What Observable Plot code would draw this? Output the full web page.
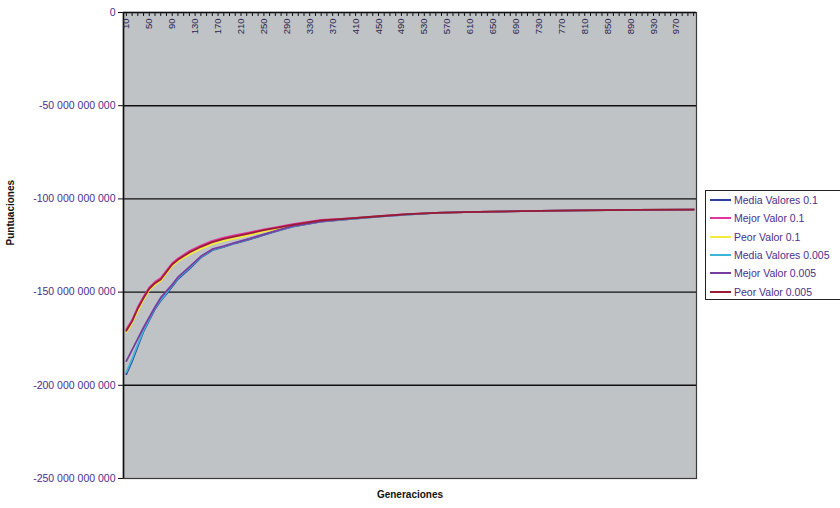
<!DOCTYPE html>
<html>
<head>
<meta charset="utf-8">
<script src="https://cdn.jsdelivr.net/npm/d3@7"></script>
<script src="https://cdn.jsdelivr.net/npm/@observablehq/plot@0.6"></script>
<style>
  body { margin: 0; background: #fff; }
  #chart { position: relative; width: 840px; height: 508px; font-family: "Liberation Sans", Arial, sans-serif; }
  #legend { position: absolute; left: 705px; top: 190px; width: 140px; height: 110px; border: 1px solid #222; box-sizing: border-box; background: #fff; }
  .item { height: 18.3px; display: flex; align-items: center; font-size: 10.5px; color: #4a2e8c; white-space: nowrap; }
  .item svg { margin-left: 4px; margin-right: 3px; }
  #chart svg g[aria-label="y-axis tick"] { stroke: #111; }
</style>
</head>
<body>
<div id="chart"><div id="legend"></div></div>
<script>
// Generaciones muestreadas
const generaciones = [10, 20, 30, 40, 50, 60, 70, 80, 90, 100, 120, 140, 160, 180, 200, 225, 250, 275, 300, 350, 400, 450, 500, 550, 600, 700, 800, 900, 1000];

// Puntuaciones en miles de millones
const mediaValores01   = [-194, -187, -179, -171, -165, -159, -154.5, -151, -147, -143, -137.5, -131.5, -127.5, -125.8, -123.8, -121.7, -119.3, -117, -114.9, -112.2, -110.8, -109.5, -108.4, -107.5, -107.1, -106.6, -106.2, -105.9, -105.7];
const mejorValor01     = [-170, -165, -158, -152.5, -147.5, -144.5, -142.5, -138.5, -134.5, -132, -128, -125, -122.5, -120.8, -119.5, -118, -116.3, -115, -113.6, -111.3, -110.4, -109.3, -108.2, -107.5, -107.1, -106.6, -106.2, -105.9, -105.7];
const peorValor01      = [-171.5, -166.5, -160, -154, -149, -146, -144, -140, -136, -133.5, -129.8, -126.8, -124.3, -122.5, -121.2, -119.4, -117.6, -116.1, -114.4, -111.9, -110.6, -109.4, -108.3, -107.5, -107.1, -106.6, -106.2, -105.9, -105.7];
const mediaValores0005 = [-193, -186, -178, -170.5, -164.5, -158.5, -154, -150.5, -146.5, -142.5, -137, -131.2, -127.3, -125.6, -123.6, -121.5, -119.1, -116.9, -114.8, -112.1, -110.7, -109.5, -108.4, -107.5, -107.1, -106.6, -106.2, -105.9, -105.7];
const mejorValor0005   = [-187, -181, -175, -169, -163.5, -158, -153, -149.5, -146, -142, -136.5, -130.8, -127, -125.3, -123.4, -121.3, -119, -116.7, -114.6, -112, -110.6, -109.4, -108.3, -107.5, -107.1, -106.6, -106.2, -105.9, -105.7];
const peorValor0005    = [-170.7, -165.7, -158.8, -153.2, -148.2, -145.2, -143.2, -139.2, -135.2, -132.7, -128.7, -125.7, -123.2, -121.5, -120.1, -118.5, -116.8, -115.4, -113.9, -111.5, -110.5, -109.3, -108.2, -107.5, -107.1, -106.6, -106.2, -105.9, -105.7];

const series  = ["Media Valores 0.1", "Mejor Valor 0.1", "Peor Valor 0.1", "Media Valores 0.005", "Mejor Valor 0.005", "Peor Valor 0.005"];
const colores = ["#2c3f9a", "#e0369c", "#f4ec3c", "#3cb6d8", "#7a3c9e", "#9a1c34"];
const valores = [mediaValores01, mejorValor01, peorValor01, mediaValores0005, mejorValor0005, peorValor0005];

// Marcas del eje de categorías y etiquetas cada cuatro
const ticksX     = d3.range(10, 1001, 10);
const etiquetasX = [10, 50, 90, 130, 170, 210, 250, 290, 330, 370, 410, 450, 490, 530, 570, 610, 650, 690, 730, 770, 810, 850, 890, 930, 970];
const ticksY     = [0, -50e9, -100e9, -150e9, -200e9, -250e9];
const rejillaY   = [-50e9, -100e9, -150e9, -200e9];

const tabla = series.flatMap((s, i) =>
  generaciones.map((g, j) => ({serie: s, generacion: g, puntuacion: valores[i][j] * 1e9}))
);

const formatoY = d => d === 0 ? "0" : d3.format(",")(d).replace(/,/g, " ").replace("−", "-");

const chart = Plot.plot({
  width: 840,
  height: 508,
  marginLeft: 123,
  marginRight: 144,
  marginTop: 12,
  marginBottom: 30,
  style: {fontFamily: "'Liberation Sans', Arial, sans-serif", background: "transparent"},
  x: {type: "linear", domain: [5, 1005]},
  y: {domain: [-250e9, 0]},
  color: {domain: series, range: colores},
  marks: [
    Plot.frame({fill: "#c0c3c5", stroke: "#3a3a3a", strokeWidth: 1.2}),
    Plot.ruleY(rejillaY, {stroke: "#111", strokeWidth: 1.4}),
    Plot.line(tabla, {x: "generacion", y: "puntuacion", z: "serie", stroke: "serie", strokeWidth: 1.8}),
    Plot.ruleY([0], {stroke: "#111", strokeWidth: 1.4}),
    Plot.ruleX([5], {stroke: "#111", strokeWidth: 1.6}),
    Plot.tickX(ticksX, {x: d => d, stroke: "#111", insetBottom: 462}),
    Plot.text(etiquetasX, {x: d => d, y: 0, text: d => String(d), rotate: -90, textAnchor: "end", dy: 6, fontSize: 9.5, fill: "#2a2450"}),
    Plot.axisY({ticks: ticksY, tickFormat: formatoY, tickSize: 5, tickPadding: 3, fontSize: 10.5, color: "#4a2e8c", label: null}),
    Plot.axisX({ticks: [], label: null}),
    Plot.text(["Puntuaciones"], {frameAnchor: "left", rotate: -90, dx: -113, fontSize: 10, fontWeight: "bold", fill: "#111"}),
    Plot.text(["Generaciones"], {frameAnchor: "bottom", dy: 19, fontSize: 10, fontWeight: "bold", fill: "#111"})
  ]
});

const cont = document.getElementById("chart");
cont.insertBefore(chart, cont.firstChild);

// Leyenda
const leyenda = d3.select("#legend");
series.forEach((s, i) => {
  const item = leyenda.append("div").attr("class", "item");
  const sv = item.append("svg").attr("width", 21).attr("height", 6);
  sv.append("line").attr("x1", 0).attr("x2", 21).attr("y1", 3).attr("y2", 3)
    .attr("stroke", colores[i]).attr("stroke-width", 2);
  item.append("span").text(s);
});
</script>
</body>
</html>
